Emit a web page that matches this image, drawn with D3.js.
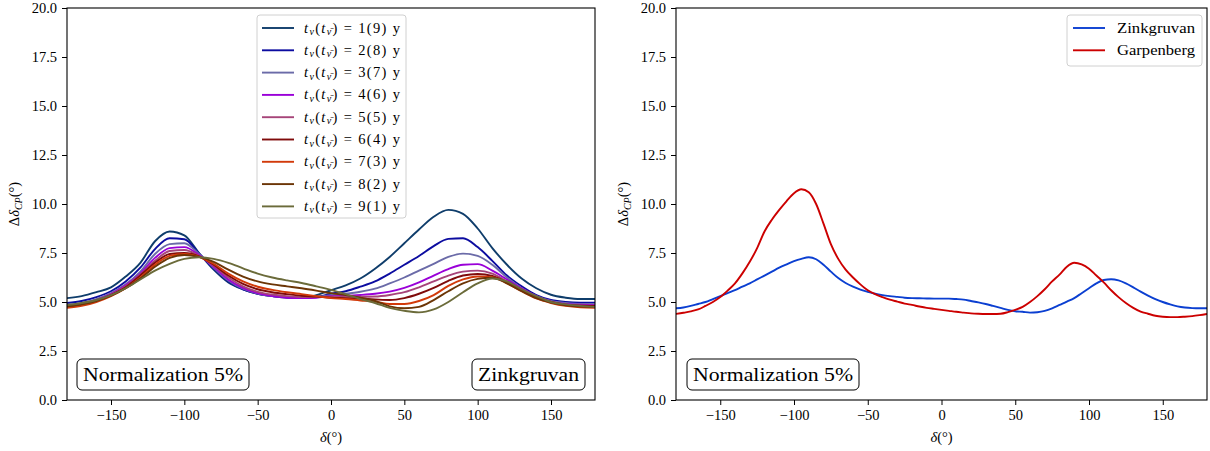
<!DOCTYPE html>
<html><head><meta charset="utf-8">
<script src="https://cdn.jsdelivr.net/npm/d3@7"></script>
<style>
body{margin:0;background:#fff}
svg{display:block}
text{font-family:"Liberation Serif","DejaVu Serif",serif;fill:#000}
</style>
</head><body>
<svg id="c" width="1210" height="451"></svg>
<script>
// ---------- DATA ----------
const deltaLeft = [-180,-170,-160,-150,-140,-130,-120,-110,-100,-90,-80,-70,-60,-50,-40,-30,-20,-10,0,10,20,30,40,50,60,70,80,90,100,110,120,130,140,150,160,170,180];
const leftLabels = ["1(9)","2(8)","3(7)","4(6)","5(5)","6(4)","7(3)","8(2)","9(1)"];
const leftColors = ["#0f3d6b","#0c0ca0","#6b6ba8","#9a00d8","#a64479","#7f0b0b","#d23a0a","#6b3506","#6b6b3a"];
const t1 = [5.2,5.3,5.5,5.75,6.3,7.0,8.1,8.6,8.4,7.5,6.65,6.0,5.65,5.42,5.3,5.22,5.22,5.35,5.6,5.85,6.2,6.7,7.3,8.0,8.7,9.35,9.7,9.5,8.75,7.75,6.9,6.2,5.7,5.37,5.22,5.15,5.15];
const t2 = [4.95,5.05,5.25,5.55,6.05,6.75,7.7,8.25,8.2,7.48,6.7,6.05,5.65,5.42,5.3,5.25,5.22,5.25,5.42,5.55,5.78,6.05,6.45,6.9,7.35,7.85,8.22,8.25,7.8,7.1,6.35,5.8,5.35,5.1,5.0,4.97,4.97];
const t3 = [4.85,4.95,5.15,5.45,5.9,6.55,7.45,7.95,8.0,7.45,6.75,6.1,5.68,5.43,5.3,5.25,5.22,5.25,5.35,5.42,5.52,5.68,5.95,6.25,6.6,6.95,7.3,7.47,7.35,6.9,6.25,5.7,5.3,5.05,4.95,4.9,4.9];
const t4 = [4.8,4.9,5.1,5.4,5.85,6.45,7.25,7.75,7.8,7.4,6.8,6.15,5.72,5.45,5.3,5.22,5.2,5.22,5.3,5.32,5.36,5.42,5.53,5.72,6.0,6.35,6.68,6.9,6.93,6.6,6.15,5.7,5.3,5.02,4.9,4.86,4.85];
const t5 = [4.78,4.88,5.08,5.38,5.8,6.4,7.1,7.6,7.65,7.35,6.85,6.25,5.8,5.52,5.38,5.3,5.25,5.25,5.27,5.27,5.27,5.28,5.36,5.5,5.75,6.05,6.35,6.55,6.6,6.45,6.05,5.65,5.28,5.02,4.88,4.83,4.81];
const t6 = [4.75,4.85,5.05,5.35,5.75,6.35,7.0,7.45,7.5,7.33,6.9,6.35,5.92,5.65,5.5,5.4,5.32,5.28,5.22,5.2,5.17,5.13,5.1,5.2,5.42,5.72,6.08,6.35,6.43,6.33,6.0,5.62,5.25,5.0,4.86,4.81,4.8];
const t7 = [4.7,4.8,5.0,5.3,5.7,6.25,6.9,7.35,7.45,7.3,6.95,6.45,6.05,5.78,5.62,5.5,5.4,5.3,5.2,5.15,5.08,5.02,4.9,4.9,5.05,5.35,5.82,6.15,6.3,6.27,5.95,5.55,5.18,4.95,4.8,4.73,4.71];
const t8 = [4.78,4.88,5.05,5.32,5.7,6.2,6.8,7.25,7.4,7.3,7.05,6.65,6.3,6.05,5.9,5.8,5.7,5.58,5.45,5.35,5.22,5.05,4.78,4.68,4.75,5.1,5.55,5.95,6.18,6.24,5.95,5.55,5.2,4.97,4.83,4.77,4.76];
const t9 = [4.85,4.95,5.1,5.35,5.7,6.15,6.6,6.95,7.2,7.28,7.2,7.0,6.72,6.45,6.25,6.1,5.97,5.8,5.62,5.4,5.15,4.95,4.7,4.55,4.47,4.62,5.0,5.5,5.95,6.2,6.05,5.65,5.3,5.0,4.88,4.8,4.75];

const deltaRight = [-180,-175,-170,-165,-160,-155,-150,-145,-140,-135,-130,-125,-120,-115,-110,-105,-100,-95,-90,-85,-80,-75,-70,-65,-60,-55,-50,-45,-40,-35,-30,-25,-20,-15,-10,-5,0,5,10,15,20,25,30,35,40,45,50,55,60,65,70,75,80,85,90,95,100,105,110,115,120,125,130,135,140,145,150,155,160,165,170,175,180];
const rightLabels = ["Zinkgruvan","Garpenberg"];
const rightColors = ["#0b3fd1","#cc0000"];
const zinkgruvan = [4.68,4.72,4.8,4.9,5.0,5.15,5.3,5.45,5.6,5.78,5.95,6.15,6.35,6.55,6.75,6.92,7.08,7.2,7.28,7.18,6.9,6.55,6.22,5.97,5.78,5.63,5.52,5.42,5.35,5.3,5.26,5.22,5.2,5.19,5.18,5.17,5.17,5.17,5.15,5.12,5.05,4.98,4.9,4.8,4.7,4.6,4.53,4.5,4.46,4.48,4.55,4.68,4.85,5.02,5.2,5.45,5.7,5.95,6.12,6.16,6.1,5.95,5.75,5.53,5.33,5.15,5.0,4.88,4.78,4.72,4.69,4.68,4.68];
const garpenberg = [4.39,4.45,4.52,4.62,4.8,5.0,5.25,5.58,5.95,6.46,7.05,7.75,8.6,9.2,9.7,10.15,10.55,10.75,10.6,10.0,9.0,7.95,7.2,6.65,6.25,5.9,5.6,5.4,5.25,5.12,5.02,4.92,4.85,4.77,4.7,4.65,4.6,4.55,4.5,4.46,4.42,4.4,4.39,4.39,4.4,4.48,4.6,4.75,5.0,5.3,5.65,6.05,6.4,6.8,7.0,6.92,6.7,6.35,6.0,5.6,5.25,4.95,4.7,4.51,4.4,4.3,4.25,4.23,4.23,4.25,4.28,4.33,4.39];

const xTicks = [-150,-100,-50,0,50,100,150];
const yTicks = [0,2.5,5,7.5,10,12.5,15,17.5,20];
const annotNorm = "Normalization 5%";
const annotSite = "Zinkgruvan";

// ---------- DRAW ----------
const svg = d3.select("#c");
const leftSeries = [t1,t2,t3,t4,t5,t6,t7,t8,t9];

function panel(xr, deltas, series, colors) {
  const x = d3.scaleLinear().domain([-180,180]).range(xr);
  const y = d3.scaleLinear().domain([0,20]).range([400,8]);
  const g = svg.append("g");
  const line = d3.line().x((d,i)=>x(deltas[i])).y(d=>y(d)).curve(d3.curveMonotoneX);
  const clipId = "clip" + xr[0];
  svg.append("clipPath").attr("id", clipId).append("rect")
    .attr("x", xr[0]).attr("y", 8).attr("width", xr[1]-xr[0]).attr("height", 392);
  const lg = g.append("g").attr("clip-path", `url(#${clipId})`);
  series.forEach((s,k)=>{
    lg.append("path").attr("d", line(s)).attr("fill","none")
      .attr("stroke", colors[k]).attr("stroke-width", 1.9).attr("stroke-linejoin","round");
  });
  const ax = g.append("g").attr("transform","translate(0,400)")
    .call(d3.axisBottom(x).tickValues(xTicks).tickFormat(d3.format("d")).tickSize(5).tickPadding(5));
  const ay = g.append("g").attr("transform",`translate(${xr[0]},0)`)
    .call(d3.axisLeft(y).tickValues(yTicks).tickFormat(d3.format(".1f")).tickSize(5).tickPadding(5));
  [ax,ay].forEach(a=>{
    a.select(".domain").remove();
    a.selectAll("text").attr("font-size",14.5).attr("font-family",'"Liberation Serif",serif').attr("fill","#000");
    a.selectAll("line").attr("stroke","#000").attr("stroke-width",1);
  });
  g.append("rect").attr("x",xr[0]).attr("y",8).attr("width",xr[1]-xr[0]).attr("height",392)
    .attr("fill","none").attr("stroke","#000").attr("stroke-width",1.1);
  // x label
  const xl = g.append("text").attr("x",(xr[0]+xr[1])/2).attr("y",442).attr("text-anchor","middle").attr("font-size",14.5);
  xl.append("tspan").attr("font-style","italic").text("δ");
  xl.append("tspan").text("(°)");
  // y label
  const yl = g.append("text").attr("transform",`translate(${xr[0]-48},204) rotate(-90)`).attr("text-anchor","middle").attr("font-size",14.5);
  yl.append("tspan").text("Δ");
  yl.append("tspan").attr("font-style","italic").text("δ");
  yl.append("tspan").attr("font-style","italic").attr("font-size",10).attr("dy",3).text("CP");
  yl.append("tspan").attr("dy",-3).text("(°)");
  return {x,y,g};
}

function annot(g, xLeft, xRight, txt, width) {
  const x0 = xLeft !== null ? xLeft + 6 : xRight - 6 - width;
  g.append("rect")
    .attr("x", x0-6).attr("y",359).attr("width", width+12).attr("height",31)
    .attr("rx",5).attr("fill","#fff").attr("stroke","#000").attr("stroke-width",1);
  g.append("text").attr("x", x0).attr("y",381).attr("font-size",19.5)
    .attr("textLength", width).attr("lengthAdjust","spacingAndGlyphs").text(txt);
}

// left panel
const L = panel([67,595], deltaLeft, leftSeries, leftColors);
{
  const lg = L.g.append("g");
  lg.append("rect").attr("x",257).attr("y",15).attr("width",149).attr("height",203).attr("rx",3)
    .attr("fill","#fff").attr("fill-opacity",0.8).attr("stroke","#d0d0d0");
  leftLabels.forEach((lab,k)=>{
    const yy = 28 + k*22.3;
    lg.append("line").attr("x1",262).attr("x2",294).attr("y1",yy).attr("y2",yy)
      .attr("stroke",leftColors[k]).attr("stroke-width",1.9);
    const t = lg.append("text").attr("x",304).attr("y",yy+4.5).attr("font-size",14.5)
      .attr("textLength",96).attr("lengthAdjust","spacing");
    t.append("tspan").attr("font-style","italic").text("t");
    t.append("tspan").attr("font-style","italic").attr("font-size",10).attr("dy",2.5).text("ν");
    t.append("tspan").attr("dy",-2.5).text("(");
    t.append("tspan").attr("font-style","italic").text("t");
    t.append("tspan").attr("font-style","italic").attr("font-size",10).attr("dy",2.5).text("ν̄");
    t.append("tspan").attr("dy",-2.5).text(") = " + lab + " y");
  });
  annot(L.g, 77, null, annotNorm, 160);
  annot(L.g, null, 585, annotSite, 101);
}

// right panel
const R = panel([676,1207], deltaRight, [zinkgruvan, garpenberg], rightColors);
{
  const lg = R.g.append("g");
  lg.append("rect").attr("x",1067).attr("y",15).attr("width",135).attr("height",51).attr("rx",3)
    .attr("fill","#fff").attr("fill-opacity",0.8).attr("stroke","#d0d0d0");
  rightLabels.forEach((lab,k)=>{
    const yy = 28 + k*22.3;
    lg.append("line").attr("x1",1073).attr("x2",1105).attr("y1",yy).attr("y2",yy)
      .attr("stroke",rightColors[k]).attr("stroke-width",1.9);
    lg.append("text").attr("x",1117).attr("y",yy+4.5).attr("font-size",15)
      .attr("textLength",78).attr("lengthAdjust","spacingAndGlyphs").text(lab);
  });
  annot(R.g, 687, null, annotNorm, 160);
}
</script>
</body></html>
